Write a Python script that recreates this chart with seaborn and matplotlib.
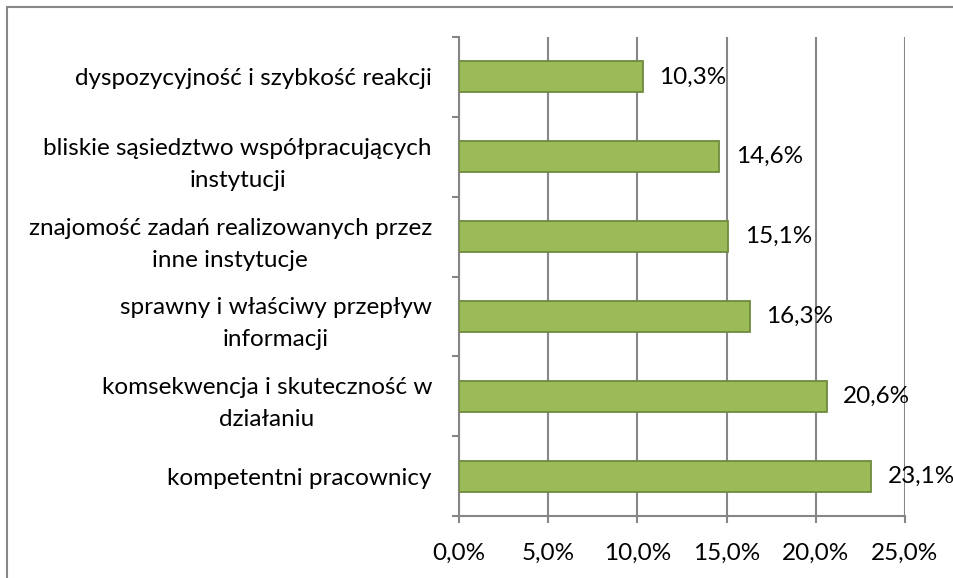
import matplotlib
matplotlib.use("Agg")
import matplotlib.pyplot as plt
import seaborn as sns
import pandas as pd
from matplotlib.patches import Rectangle
from matplotlib.ticker import FixedLocator, FuncFormatter

categories = [
    "dyspozycyjność i szybkość reakcji",
    "bliskie sąsiedztwo współpracujących\ninstytucji",
    "znajomość zadań realizowanych przez\ninne instytucje",
    "sprawny i właściwy przepływ\ninformacji",
    "komsekwencja i skuteczność w\ndziałaniu",
    "kompetentni pracownicy",
]
values = [10.3, 14.6, 15.1, 16.3, 20.6, 23.1]
xticks = [0, 5, 10, 15, 20, 25]

sns.set_theme(style="white")
plt.rcParams["font.family"] = ["Lato", "DejaVu Sans"]

df = pd.DataFrame({"cat": categories, "val": values})

fig = plt.figure(figsize=(9.54, 5.78), dpi=100)
ax = fig.add_axes([459/954, 1-516/578, (905-459)/954, (516-37)/578])

gray = "#868686"
FS = 17.5
sns.barplot(data=df, y="cat", x="val", orient="h", color="#9BBB59",
            saturation=1, width=0.39, edgecolor="#6E8B3D", linewidth=1.3, ax=ax, zorder=3)

ax.set_xlim(0, 25)
ax.set_ylim(5.5, -0.5)
ax.set_xticks(xticks)
ax.xaxis.set_major_formatter(FuncFormatter(lambda v, p: f"{v:.1f}%".replace(".", ",")))
ax.grid(axis="x", color=gray, linewidth=1.5, zorder=0)
ax.set_axisbelow(True)
ax.set_xlabel("")
ax.set_ylabel("")

for s in ["top", "right"]:
    ax.spines[s].set_visible(False)
for s in ["left", "bottom"]:
    ax.spines[s].set_color(gray)
    ax.spines[s].set_linewidth(1.5)

ax.tick_params(axis="x", which="major", length=5, width=1.5, color=gray, direction="out",
               labelsize=FS, pad=14, labelcolor="#000000", bottom=True)
ax.tick_params(axis="y", which="major", length=0, labelsize=FS, pad=19.5, labelcolor="#000000")
ax.yaxis.set_minor_locator(FixedLocator([-0.5, 0.5, 1.5, 2.5, 3.5, 4.5, 5.5]))
ax.tick_params(axis="y", which="minor", length=5, width=1.5, color=gray, left=True, direction="out")
for lbl in ax.get_yticklabels():
    lbl.set_horizontalalignment("right")
    lbl.set_multialignment("center")
    lbl.set_linespacing(1.65)

for i, v in enumerate(values):
    ax.annotate(f"{v:.1f}%".replace(".", ","), xy=(v, i), xytext=(12, 0),
                textcoords="offset points", va="center", ha="left", fontsize=FS, color="#000000")

fig.add_artist(Rectangle((7/954, -0.1), 1.2, 1 - 7/578 + 0.1, transform=fig.transFigure,
                         fill=False, edgecolor="#878787", linewidth=1.5))

fig.savefig("out.png", dpi=100)
